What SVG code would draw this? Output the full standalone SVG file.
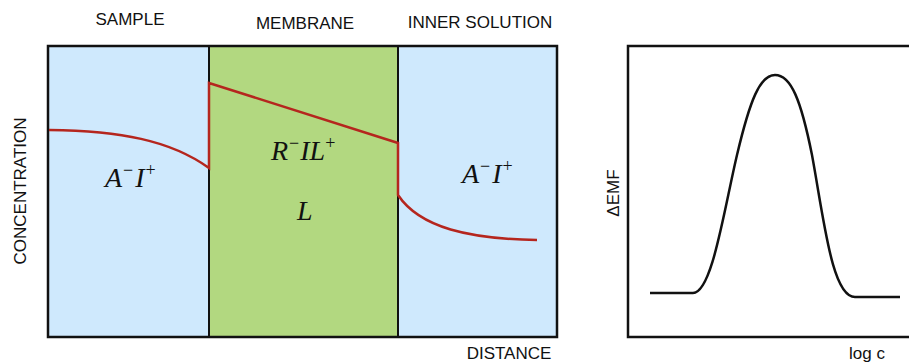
<svg xmlns="http://www.w3.org/2000/svg" width="909" height="362" viewBox="0 0 909 362">
<style>
.lbl{font-family:"Liberation Sans",Arial,sans-serif;font-size:17px;fill:#111}
.math{font-family:"Liberation Serif","Times New Roman",serif;font-style:italic;font-size:28px;fill:#111}
.sup{font-size:18px;font-style:normal}
.frame{fill:none;stroke:#111;stroke-width:2.5}
.red{fill:none;stroke:#b5261e;stroke-width:2.5;stroke-linejoin:miter}
</style>
<rect width="909" height="362" fill="#fff"/>
<g id="sample">
<rect x="48" y="46" width="161" height="291" fill="#cfe9fd"/>
<text class="lbl" x="130" y="25" text-anchor="middle">SAMPLE</text>
<text class="math" x="105" y="187">A<tspan class="sup" dx="1" dy="-11">−</tspan><tspan dx="2" dy="11">I</tspan><tspan class="sup" dx="1" dy="-11">+</tspan></text>
</g>
<g id="membrane">
<rect x="209" y="46" width="189" height="291" fill="#b2d880"/>
<text class="lbl" x="305" y="29" text-anchor="middle">MEMBRANE</text>
<text class="math" x="271" y="160">R<tspan class="sup" dx="1" dy="-11">−</tspan><tspan dx="1" dy="11">IL</tspan><tspan class="sup" dy="-11">+</tspan></text>
<text class="math" x="297" y="220">L</text>
</g>
<g id="inner">
<rect x="398" y="46" width="159" height="291" fill="#cfe9fd"/>
<text class="lbl" x="480" y="28" text-anchor="middle">INNER SOLUTION</text>
<text class="math" x="462" y="183">A<tspan class="sup" dx="1" dy="-11">−</tspan><tspan dx="2" dy="11">I</tspan><tspan class="sup" dx="1" dy="-11">+</tspan></text>
</g>
<g id="frames">
<rect class="frame" x="48" y="46" width="509" height="291"/>
<line x1="209" y1="46" x2="209" y2="337" stroke="#111" stroke-width="2"/>
<line x1="398" y1="46" x2="398" y2="337" stroke="#111" stroke-width="2"/>
<rect class="frame" x="628" y="46" width="300" height="291"/>
</g>
<g id="connectors">
<path class="red" d="M49,130 C120,131 170,140 209,168 L209,83 L398,143 L398,195 C420,228 470,239 537,240"/>
<path fill="none" stroke="#111" stroke-width="2.5" d="M650,293 L693,293 C712,293 724,210 737,155 C750,100 760,75 775,75 C791,75 801,100 812,155 C824,220 832,297 855,297 L900,297"/>
</g>
<g id="axes">
<text class="lbl" transform="translate(26,191) rotate(-90)" text-anchor="middle">CONCENTRATION</text>
<text class="lbl" x="509" y="359" text-anchor="middle">DISTANCE</text>
<text class="lbl" transform="translate(619,193) rotate(-90)" text-anchor="middle">ΔEMF</text>
<text class="lbl" x="867" y="359" text-anchor="middle">log c</text>
</g>
</svg>
